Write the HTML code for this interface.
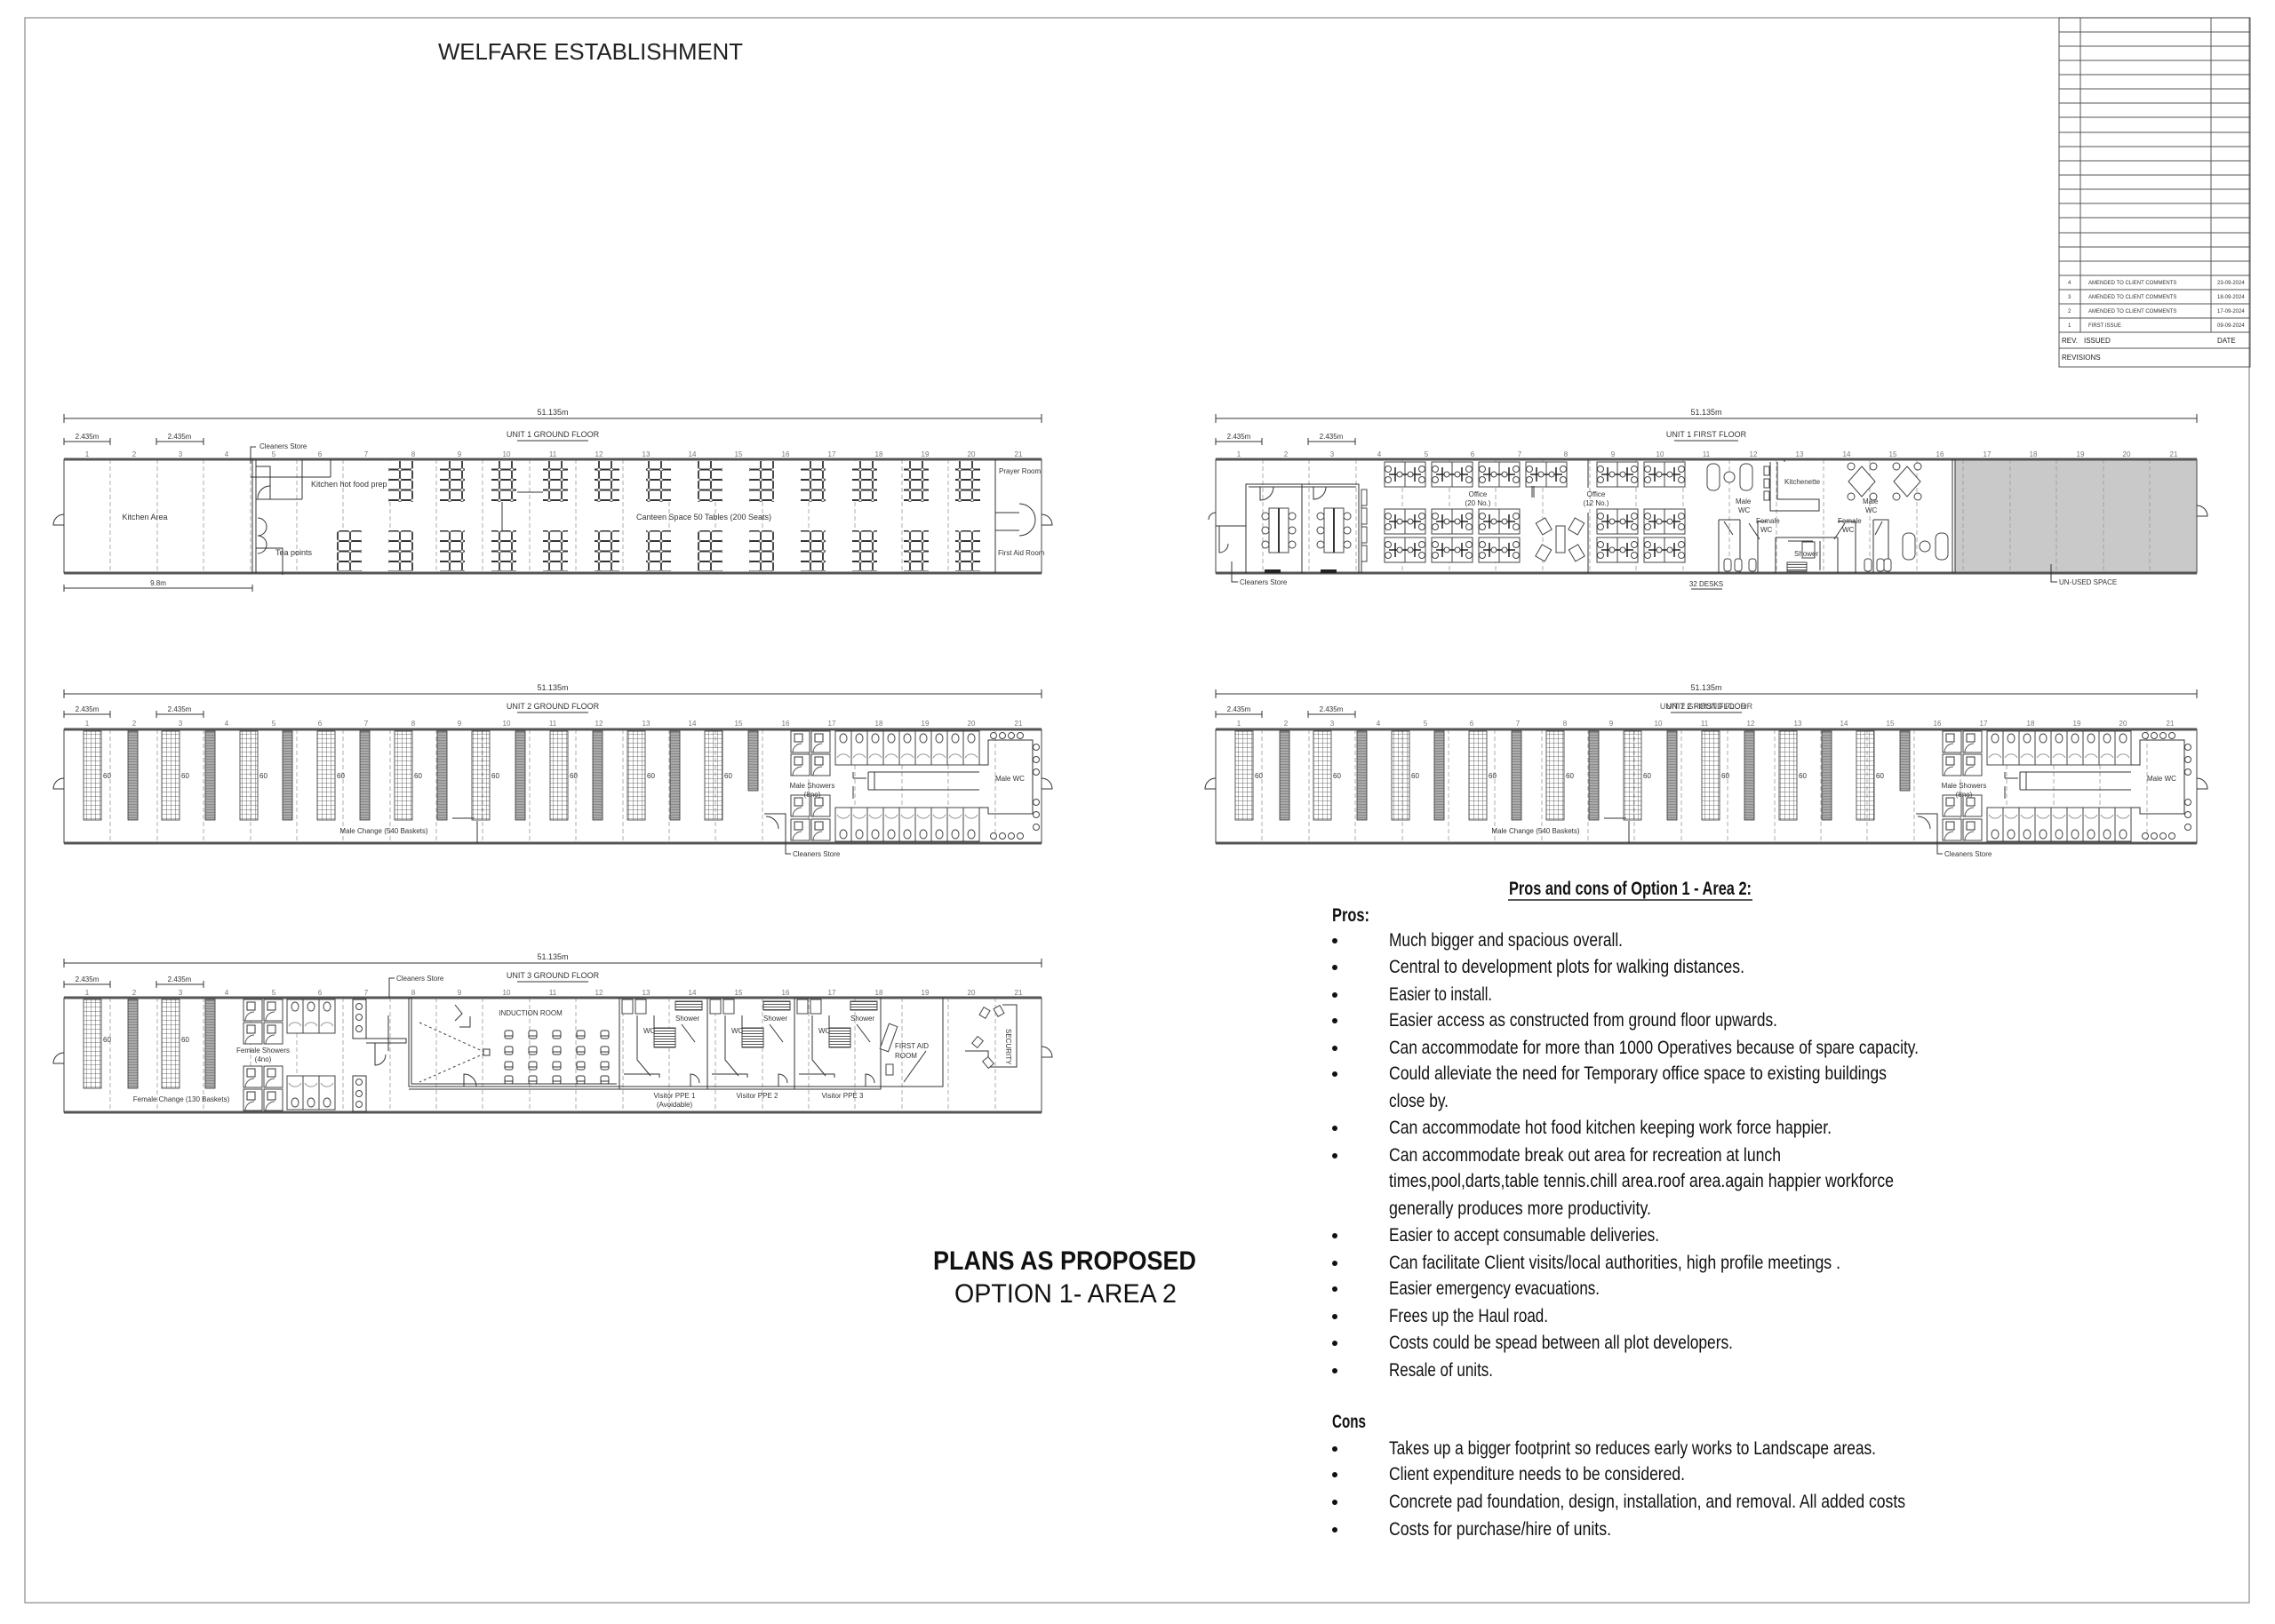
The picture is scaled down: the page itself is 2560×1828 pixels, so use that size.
<!DOCTYPE html>
<html><head><meta charset="utf-8"><style>
html,body{margin:0;padding:0;background:#fff;}
svg{display:block;}
.n{font-family:"Liberation Sans Narrow","Liberation Sans",sans-serif;fill:#333;}
.s8{font-size:8px;}.s9{font-size:9px;}
.ln{stroke:#333;fill:none;stroke-width:1;}
.dsh{stroke:#999;stroke-width:.8;stroke-dasharray:5 3;}
.wall{stroke:#555;stroke-width:3;}
.t{font-family:"Liberation Sans Narrow","Liberation Sans",sans-serif;font-size:21px;fill:#111;}
</style></head><body>
<svg width="2560" height="1828" viewBox="0 0 2560 1828" xmlns="http://www.w3.org/2000/svg">
<defs>
<pattern id="grid" width="5" height="5" patternUnits="userSpaceOnUse"><path d="M0 0H5M0 0V5" stroke="#444" stroke-width=".8" fill="none"/></pattern>
<pattern id="bench" width="10" height="3" patternUnits="userSpaceOnUse"><rect width="10" height="3" fill="#aaa"/><path d="M0 0H10" stroke="#555" stroke-width=".8"/></pattern>
<pattern id="tbl" width="14" height="11.5" patternUnits="userSpaceOnUse"><rect x=".5" y=".5" width="13" height="10.5" rx="2" fill="#fff" stroke="#333" stroke-width=".9"/></pattern>
<pattern id="stripe" width="4" height="3" patternUnits="userSpaceOnUse"><rect width="4" height="3" fill="#fff"/><path d="M0 1.5H4" stroke="#555" stroke-width="1"/></pattern>
<g id="desk"><rect x="0" y="0" width="46" height="28" fill="#fff" stroke="#444"/><line x1="23" y1="0" x2="23" y2="28" stroke="#444"/><path d="M5 14h36M12 6v16M34 6v16" stroke="#222" stroke-width="1.5"/><circle cx="4" cy="8" r="3.5" fill="#fff" stroke="#444"/><circle cx="4" cy="20" r="3.5" fill="#fff" stroke="#444"/><circle cx="42" cy="8" r="3.5" fill="#fff" stroke="#444"/><circle cx="42" cy="20" r="3.5" fill="#fff" stroke="#444"/><circle cx="17" cy="14" r="3" fill="#fff" stroke="#444"/><circle cx="29" cy="14" r="3" fill="#fff" stroke="#444"/></g>
<g id="wc"><rect x="0" y="0" width="18" height="38" fill="#fff" stroke="#444"/><ellipse cx="9" cy="8" rx="4" ry="5" fill="#fff" stroke="#444"/><path d="M2 30a8 8 0 0 1 14 0" stroke="#999" fill="none"/></g>
<g id="wcb"><rect x="0" y="0" width="18" height="38" fill="#fff" stroke="#444"/><ellipse cx="9" cy="30" rx="4" ry="5" fill="#fff" stroke="#444"/><path d="M2 8a8 8 0 0 0 14 0" stroke="#999" fill="none"/></g>
<g id="shw"><rect x="0" y="0" width="21" height="24" fill="#fff" stroke="#444"/><rect x="4" y="3" width="9" height="9" fill="#fff" stroke="#333"/><path d="M2 24a10 10 0 0 1 10-10" stroke="#555" fill="none"/></g>
<g id="chr"><rect x="0" y="0" width="9" height="9" rx="2" fill="#fff" stroke="#333"/><path d="M0 6h9" stroke="#333"/></g>
</defs>

<rect x="0" y="0" width="2560" height="1828" fill="#fff"/>
<!-- border -->
<rect x="28" y="20" width="2503" height="1784" fill="none" stroke="#888" stroke-width="1.2"/>

<!-- title -->
<text x="493" y="67" font-family="Liberation Sans, sans-serif" font-size="26" fill="#222" textLength="343" lengthAdjust="spacingAndGlyphs">WELFARE ESTABLISHMENT</text>

<!-- revision table -->
<g stroke="#555" stroke-width="1" fill="none">
<rect x="2317" y="20" width="215" height="393"/>
<path d="M2341 20V374M2488 20V374"/>
<path d="M2317 36H2532M2317 52H2532M2317 68H2532M2317 84H2532M2317 100H2532M2317 116H2532M2317 132H2532M2317 149H2532M2317 165H2532M2317 181H2532M2317 197H2532M2317 213H2532M2317 229H2532M2317 245H2532M2317 262H2532M2317 278H2532M2317 294H2532M2317 310H2532M2317 326H2532M2317 342H2532M2317 358H2532M2317 374H2532M2317 392H2532"/>
</g>
<g class="n" style="font-size:6px">
<text x="2327" y="320">4</text><text x="2350" y="320">AMENDED TO CLIENT COMMENTS</text><text x="2495" y="320">23-09-2024</text>
<text x="2327" y="336">3</text><text x="2350" y="336">AMENDED TO CLIENT COMMENTS</text><text x="2495" y="336">18-09-2024</text>
<text x="2327" y="352">2</text><text x="2350" y="352">AMENDED TO CLIENT COMMENTS</text><text x="2495" y="352">17-09-2024</text>
<text x="2327" y="368">1</text><text x="2350" y="368">FIRST ISSUE</text><text x="2495" y="368">09-09-2024</text>
</g>
<g class="n" style="font-size:8px;fill:#222">
<text x="2320" y="386">REV.</text><text x="2345" y="386">ISSUED</text><text x="2495" y="386">DATE</text>
<text x="2320" y="405">REVISIONS</text>
</g>

<!-- ================= UNIT FRAME macro (written per unit) ================= -->
<!-- UNIT 1 GROUND FLOOR -->
<g transform="translate(72,517)">
<path class="ln" d="M0 -46H1100M0 -51V-41M1100 -51V-41M0 -20H52M104 -20H157M0 -24V-16M52 -24V-16M104 -24V-16M157 -24V-16"/>
<text class="n s9" x="550" y="-50" text-anchor="middle">51.135m</text>
<text class="n s9" x="550" y="-25" text-anchor="middle">UNIT 1 GROUND FLOOR</text><path class="ln" d="M510 -21H590"/>
<text class="n s8" x="26" y="-23" text-anchor="middle">2.435m</text><text class="n s8" x="130" y="-23" text-anchor="middle">2.435m</text>
<g class="n s8" text-anchor="middle" style="fill:#777"><text x="26" y="-3">1</text><text x="79" y="-3">2</text><text x="131" y="-3">3</text><text x="183" y="-3">4</text><text x="236" y="-3">5</text><text x="288" y="-3">6</text><text x="340" y="-3">7</text><text x="393" y="-3">8</text><text x="445" y="-3">9</text><text x="498" y="-3">10</text><text x="550" y="-3">11</text><text x="602" y="-3">12</text><text x="655" y="-3">13</text><text x="707" y="-3">14</text><text x="759" y="-3">15</text><text x="812" y="-3">16</text><text x="864" y="-3">17</text><text x="917" y="-3">18</text><text x="969" y="-3">19</text><text x="1021" y="-3">20</text><text x="1074" y="-3">21</text></g>
<path class="dsh" d="M52 0V128M105 0V128M157 0V128M210 0V128M262 0V128M314 0V128M367 0V128M419 0V128M471 0V128M524 0V128M576 0V128M629 0V128M681 0V128M733 0V128M786 0V128M838 0V128M890 0V128M943 0V128M995 0V128M1048 0V128"/>
<rect x="0" y="0" width="1100" height="128" fill="none" stroke="#444"/>
<path class="wall" d="M0 0H1100M0 128H1100"/>
<path class="ln" d="M0 62a12 12 0 0 0 -12 12H0M1100 62a12 12 0 0 1 12 12H1100"/>
<!-- kitchen walls -->
<path class="ln" d="M212 0V128M216 0V128M216 45H268M268 0V45M216 8H232V45M300 0V20M300 20H210"/>
<path class="ln" d="M216 100h30v30M232 30a14 14 0 0 0 -14 14M218 66a10 10 0 0 1 0 20M218 86a10 10 0 0 1 0 20"/>
<path class="ln" d="M1048 0V128M1048 60H1075M1048 80H1075M1075 50a18 18 0 0 1 0 36"/>
<path class="ln" d="M0 145H212M0 141V149M212 141V149"/>
<text class="n s8" x="106" y="142" text-anchor="middle">9.8m</text>
<text class="n s9" x="91" y="68" text-anchor="middle">Kitchen Area</text>
<text class="n s9" x="278" y="31">Kitchen hot food prep</text>
<text class="n s9" x="238" y="108">Tea points</text>
<text class="n s9" x="720" y="68" text-anchor="middle">Canteen Space 50 Tables (200 Seats)</text>
<text class="n s8" x="1052" y="16">Prayer Room</text>
<text class="n s8" x="1051" y="108">First Aid Room</text>
<text class="n s8" x="220" y="-12">Cleaners Store</text><path class="ln" d="M216 -14H210V5"/>
<!-- tables -->
<g fill="url(#tbl)">
<rect x="365" y="2" width="28" height="46"/><rect x="423" y="2" width="28" height="46"/><rect x="481" y="2" width="28" height="46"/><rect x="539" y="2" width="28" height="46"/><rect x="597" y="2" width="28" height="46"/><rect x="655" y="2" width="28" height="46"/><rect x="713" y="2" width="28" height="46"/><rect x="771" y="2" width="28" height="46"/><rect x="829" y="2" width="28" height="46"/><rect x="887" y="2" width="28" height="46"/><rect x="945" y="2" width="28" height="46"/><rect x="1003" y="2" width="28" height="46"/>
<rect x="307" y="80" width="28" height="46"/><rect x="365" y="80" width="28" height="46"/><rect x="423" y="80" width="28" height="46"/><rect x="481" y="80" width="28" height="46"/><rect x="539" y="80" width="28" height="46"/><rect x="597" y="80" width="28" height="46"/><rect x="655" y="80" width="28" height="46"/><rect x="713" y="80" width="28" height="46"/><rect x="771" y="80" width="28" height="46"/><rect x="829" y="80" width="28" height="46"/><rect x="887" y="80" width="28" height="46"/><rect x="945" y="80" width="28" height="46"/><rect x="1003" y="80" width="28" height="46"/>
</g>
<path class="ln" d="M493 48V80M510 37H539"/>
</g>

<!-- UNIT 1 FIRST FLOOR -->
<g transform="translate(1368,517)">
<rect x="832" y="0" width="272" height="128" fill="#c9c9c9"/>
<path class="ln" d="M0 -46H1104M0 -51V-41M1104 -51V-41M0 -20H52M104 -20H157M0 -24V-16M52 -24V-16M104 -24V-16M157 -24V-16"/>
<text class="n s9" x="552" y="-50" text-anchor="middle">51.135m</text>
<text class="n s9" x="552" y="-25" text-anchor="middle">UNIT 1 FIRST FLOOR</text><path class="ln" d="M516 -21H588"/>
<text class="n s8" x="26" y="-23" text-anchor="middle">2.435m</text><text class="n s8" x="130" y="-23" text-anchor="middle">2.435m</text>
<g class="n s8" text-anchor="middle" style="fill:#777"><text x="26" y="-3">1</text><text x="79" y="-3">2</text><text x="131" y="-3">3</text><text x="184" y="-3">4</text><text x="237" y="-3">5</text><text x="289" y="-3">6</text><text x="342" y="-3">7</text><text x="394" y="-3">8</text><text x="447" y="-3">9</text><text x="500" y="-3">10</text><text x="552" y="-3">11</text><text x="605" y="-3">12</text><text x="657" y="-3">13</text><text x="710" y="-3">14</text><text x="762" y="-3">15</text><text x="815" y="-3">16</text><text x="868" y="-3">17</text><text x="920" y="-3">18</text><text x="973" y="-3">19</text><text x="1025" y="-3">20</text><text x="1078" y="-3">21</text></g>
<path class="dsh" d="M53 0V128M105 0V128M158 0V128M210 0V128M263 0V128M315 0V128M368 0V128M421 0V128M473 0V128M526 0V128M578 0V128M631 0V128M684 0V128M736 0V128M789 0V128M841 0V128M894 0V128M946 0V128M999 0V128M1051 0V128"/>
<rect x="0" y="0" width="1104" height="128" fill="none" stroke="#444"/>
<path class="wall" d="M0 0H1104M0 128H1104"/>
<path class="ln" d="M1104 52a12 12 0 0 1 12 12H1104M0 75H34M0 60a8 8 0 0 0 -8 8"/>
<!-- rooms -->
<path class="ln" d="M34 128V28H161V128M97 28V128M37 31H158M161 40V128M164 40V128"/>
<path class="ln" d="M50 31v15a15 15 0 0 0 15-15M110 31v14a14 14 0 0 0 14-14M4 75v30a10 10 0 0 0 10-10"/>
<rect x="60" y="55" width="22" height="50" fill="#fff" stroke="#444"/><rect x="122" y="55" width="22" height="50" fill="#fff" stroke="#444"/>
<path d="M71 55v50M133 55v50" stroke="#333" stroke-width="2"/>
<g fill="#fff" stroke="#444"><circle cx="56" cy="64" r="4"/><circle cx="56" cy="80" r="4"/><circle cx="56" cy="96" r="4"/><circle cx="86" cy="64" r="4"/><circle cx="86" cy="80" r="4"/><circle cx="86" cy="96" r="4"/><circle cx="118" cy="64" r="4"/><circle cx="118" cy="80" r="4"/><circle cx="118" cy="96" r="4"/><circle cx="148" cy="64" r="4"/><circle cx="148" cy="80" r="4"/><circle cx="148" cy="96" r="4"/></g>
<rect x="55" y="124" width="18" height="4" fill="#222"/><rect x="118" y="124" width="18" height="4" fill="#222"/>
<g fill="#fff" stroke="#444"><rect x="164" y="34" width="6" height="18"/><rect x="164" y="55" width="6" height="18"/><rect x="164" y="76" width="6" height="18"/><rect x="164" y="97" width="6" height="18"/></g>
<!-- desks -->
<use href="#desk" x="190" y="3"/><use href="#desk" x="243" y="3"/><use href="#desk" x="296" y="3"/><use href="#desk" x="349" y="3"/>
<use href="#desk" x="429" y="3"/><use href="#desk" x="482" y="3"/>
<use href="#desk" x="190" y="56"/><use href="#desk" x="243" y="56"/><use href="#desk" x="296" y="56"/>
<use href="#desk" x="190" y="88"/><use href="#desk" x="243" y="88"/><use href="#desk" x="296" y="88"/>
<use href="#desk" x="429" y="56"/><use href="#desk" x="482" y="56"/>
<use href="#desk" x="429" y="88"/><use href="#desk" x="482" y="88"/>
<path class="ln" d="M419 0V32M419 60V128M358 30V43M356 30V43"/>
<rect x="383" y="75" width="10" height="30" fill="#fff" stroke="#444"/>
<g fill="#fff" stroke="#444"><rect x="363" y="68" width="12" height="15" transform="rotate(-30 369 75)"/><rect x="400" y="68" width="12" height="15" transform="rotate(30 406 75)"/><rect x="363" y="98" width="12" height="15" transform="rotate(30 369 105)"/><rect x="400" y="98" width="12" height="15" transform="rotate(-30 406 105)"/></g>
<text class="n s8" x="428" y="42" text-anchor="middle">Office</text><text class="n s8" x="428" y="52" text-anchor="middle">(12 No.)</text>
<text class="n s8" x="295" y="42" text-anchor="middle">Office</text><text class="n s8" x="295" y="52" text-anchor="middle">(20 No.)</text>
<!-- lounge -->
<g fill="#fff" stroke="#444"><rect x="553" y="5" width="14" height="30" rx="6"/><circle cx="578" cy="20" r="6"/><rect x="590" y="5" width="14" height="30" rx="6"/>
<rect x="773" y="83" width="14" height="30" rx="6"/><circle cx="798" cy="98" r="6"/><rect x="810" y="83" width="14" height="30" rx="6"/></g>
<!-- WC area -->
<path class="ln" d="M566 68V128M566 68H590M590 68V128M610 70V128M610 70H620M630 88V128M630 88H700M700 88V128M644 92H672M680 92V125M720 70V128M720 70H700M740 68V128M740 68H757V128"/>
<g fill="#fff" stroke="#444"><rect x="572" y="112" width="8" height="14" rx="3"/><rect x="584" y="112" width="8" height="14" rx="3"/><rect x="600" y="112" width="8" height="14" rx="3"/><rect x="730" y="112" width="8" height="14" rx="3"/><rect x="744" y="112" width="8" height="14" rx="3"/><rect x="752" y="112" width="8" height="14" rx="3"/><rect x="660" y="93" width="14" height="18"/></g>
<rect x="643" y="116" width="22" height="10" fill="url(#stripe)" stroke="#444"/>
<path class="ln" d="M572 70l10 15M600 72l12 18M708 72l-12 18M750 70l-8 15"/>
<text class="n s8" x="585" y="50">Male</text><text class="n s8" x="588" y="60">WC</text>
<text class="n s8" x="608" y="72">Female</text><text class="n s8" x="613" y="82">WC</text>
<text class="n s8" x="700" y="72">Female</text><text class="n s8" x="705" y="82">WC</text>
<text class="n s8" x="728" y="50">Male</text><text class="n s8" x="731" y="60">WC</text>
<text class="n s8" x="651" y="109">Shower</text>
<!-- kitchenette -->
<path class="ln" d="M624 3V58H679V45H632V3"/>
<g fill="#fff" stroke="#444"><rect x="617" y="8" width="6" height="10"/><rect x="617" y="22" width="6" height="10"/><rect x="617" y="36" width="6" height="10"/></g>
<text class="n s8" x="640" y="28">Kitchenette</text>
<path class="ln" d="M640 0V3"/>
<!-- round tables -->
<g fill="#fff" stroke="#444"><path d="M727 8L742 25L727 42L712 25Z"/><path d="M778 8L793 25L778 42L763 25Z"/><circle cx="715" cy="8" r="4"/><circle cx="740" cy="8" r="4"/><circle cx="715" cy="42" r="4"/><circle cx="740" cy="42" r="4"/><circle cx="766" cy="8" r="4"/><circle cx="790" cy="8" r="4"/><circle cx="766" cy="42" r="4"/><circle cx="790" cy="42" r="4"/></g>
<path class="ln" d="M832 0V128M829 0V128"/>
<text class="n s8" x="552" y="143" text-anchor="middle">32 DESKS</text><path class="ln" d="M535 146H570"/>
<path class="ln" d="M18 115V138H25"/><text class="n s8" x="27" y="141">Cleaners Store</text>
<path class="ln" d="M940 118V138H947"/><text class="n s8" x="949" y="141">UN-USED SPACE</text>
</g>

<!-- UNIT 2 GROUND FLOOR and FIRST FLOOR share layout -->
<g transform="translate(72,821)">
<path class="ln" d="M0 -40H1100M0 -45V-35M1100 -45V-35M0 -17H52M104 -17H157M0 -21V-13M52 -21V-13M104 -21V-13M157 -21V-13"/>
<text class="n s9" x="550" y="-44" text-anchor="middle">51.135m</text>
<text class="n s9" x="550" y="-23" text-anchor="middle">UNIT 2 GROUND FLOOR</text><path class="ln" d="M510 -19H590"/>
<text class="n s8" x="26" y="-20" text-anchor="middle">2.435m</text><text class="n s8" x="130" y="-20" text-anchor="middle">2.435m</text>
<g class="n s8" text-anchor="middle" style="fill:#777"><text x="26" y="-4">1</text><text x="79" y="-4">2</text><text x="131" y="-4">3</text><text x="183" y="-4">4</text><text x="236" y="-4">5</text><text x="288" y="-4">6</text><text x="340" y="-4">7</text><text x="393" y="-4">8</text><text x="445" y="-4">9</text><text x="498" y="-4">10</text><text x="550" y="-4">11</text><text x="602" y="-4">12</text><text x="655" y="-4">13</text><text x="707" y="-4">14</text><text x="759" y="-4">15</text><text x="812" y="-4">16</text><text x="864" y="-4">17</text><text x="917" y="-4">18</text><text x="969" y="-4">19</text><text x="1021" y="-4">20</text><text x="1074" y="-4">21</text></g>
<g id="u2body">
<path class="dsh" d="M52 0V128M105 0V128M157 0V128M210 0V128M262 0V128M314 0V128M367 0V128M419 0V128M471 0V128M524 0V128M576 0V128M629 0V128M681 0V128M733 0V128M786 0V128M838 0V128M890 0V128M943 0V128M995 0V128M1048 0V128"/>
<rect x="0" y="0" width="1100" height="128" fill="none" stroke="#444"/>
<path class="wall" d="M0 0H1100M0 128H1100"/>
<path class="ln" d="M0 55a12 12 0 0 0 -12 12H0M1100 55a12 12 0 0 1 12 12H1100"/>
<g fill="url(#grid)" stroke="#333" stroke-width=".8">
<rect x="22" y="2" width="20" height="100"/><rect x="110" y="2" width="20" height="100"/><rect x="198" y="2" width="20" height="100"/><rect x="285" y="2" width="20" height="100"/><rect x="372" y="2" width="20" height="100"/><rect x="459" y="2" width="20" height="100"/><rect x="547" y="2" width="20" height="100"/><rect x="634" y="2" width="20" height="100"/><rect x="721" y="2" width="20" height="100"/>
</g>
<g fill="url(#bench)" stroke="#333" stroke-width=".8">
<rect x="72" y="2" width="11" height="100"/><rect x="159" y="2" width="11" height="100"/><rect x="246" y="2" width="11" height="100"/><rect x="333" y="2" width="11" height="100"/><rect x="420" y="2" width="11" height="100"/><rect x="508" y="2" width="11" height="100"/><rect x="595" y="2" width="11" height="100"/><rect x="682" y="2" width="11" height="100"/><rect x="770" y="2" width="11" height="67"/>
</g>
<g class="n s8"><text x="44" y="55">60</text><text x="132" y="55">60</text><text x="220" y="55">60</text><text x="307" y="55">60</text><text x="394" y="55">60</text><text x="481" y="55">60</text><text x="569" y="55">60</text><text x="656" y="55">60</text><text x="743" y="55">60</text></g>
<text class="n s8" x="360" y="117" text-anchor="middle">Male Change (540 Baskets)</text>
<path class="ln" d="M465 103V128M437 100H462"/>
<!-- showers -->
<use href="#shw" x="818" y="2"/><use href="#shw" x="841" y="2"/><use href="#shw" x="818" y="28"/><use href="#shw" x="841" y="28"/>
<use href="#shw" x="818" y="74"/><use href="#shw" x="841" y="74"/><use href="#shw" x="818" y="101"/><use href="#shw" x="841" y="101"/>
<text class="n s8" x="842" y="66" text-anchor="middle">Male Showers</text><text class="n s8" x="842" y="76" text-anchor="middle">(8no)</text>
<path class="ln" d="M788 95H812V128M790 98a14 14 0 0 1 14 14"/>
<!-- toilets -->
<use href="#wc" x="868" y="2"/><use href="#wc" x="886" y="2"/><use href="#wc" x="904" y="2"/><use href="#wc" x="922" y="2"/><use href="#wc" x="940" y="2"/><use href="#wc" x="958" y="2"/><use href="#wc" x="976" y="2"/><use href="#wc" x="994" y="2"/><use href="#wc" x="1012" y="2"/>
<use href="#wcb" x="868" y="88"/><use href="#wcb" x="886" y="88"/><use href="#wcb" x="904" y="88"/><use href="#wcb" x="922" y="88"/><use href="#wcb" x="940" y="88"/><use href="#wcb" x="958" y="88"/><use href="#wcb" x="976" y="88"/><use href="#wcb" x="994" y="88"/><use href="#wcb" x="1012" y="88"/>
<path class="ln" d="M905 48H1030M905 68H1030M905 48V68M912 48V68M1030 40H1040V12H1090V95H1040V88H1030M888 55H903M888 55V48M888 64V78"/>
<g fill="#fff" stroke="#444"><circle cx="1046" cy="7" r="3.5"/><circle cx="1056" cy="7" r="3.5"/><circle cx="1066" cy="7" r="3.5"/><circle cx="1076" cy="7" r="3.5"/><circle cx="1046" cy="120" r="3.5"/><circle cx="1056" cy="120" r="3.5"/><circle cx="1066" cy="120" r="3.5"/><circle cx="1076" cy="120" r="3.5"/><circle cx="1094" cy="20" r="3.5"/><circle cx="1094" cy="34" r="3.5"/><circle cx="1094" cy="48" r="3.5"/><circle cx="1094" cy="82" r="3.5"/><circle cx="1094" cy="96" r="3.5"/><circle cx="1094" cy="110" r="3.5"/></g>
<text class="n s8" x="1048" y="58">Male WC</text>
<path class="ln" d="M812 128V140H818"/><text class="n s8" x="820" y="143">Cleaners Store</text>
</g>
</g>

<g transform="translate(1368,821)">
<path class="ln" d="M0 -40H1104M0 -45V-35M1104 -45V-35M0 -17H52M104 -17H157M0 -21V-13M52 -21V-13M104 -21V-13M157 -21V-13"/>
<text class="n s9" x="552" y="-44" text-anchor="middle">51.135m</text>
<text class="n s9" x="552" y="-23" text-anchor="middle">UNIT 2 FIRST FLOOR</text>
<text class="n s9" x="552" y="-23" text-anchor="middle" style="fill:#555">UNIT 2 GROUND FLOOR</text><path class="ln" d="M512 -19H592"/>
<text class="n s8" x="26" y="-20" text-anchor="middle">2.435m</text><text class="n s8" x="130" y="-20" text-anchor="middle">2.435m</text>
<g class="n s8" text-anchor="middle" style="fill:#777"><text x="26" y="-4">1</text><text x="79" y="-4">2</text><text x="131" y="-4">3</text><text x="183" y="-4">4</text><text x="236" y="-4">5</text><text x="288" y="-4">6</text><text x="340" y="-4">7</text><text x="393" y="-4">8</text><text x="445" y="-4">9</text><text x="498" y="-4">10</text><text x="550" y="-4">11</text><text x="602" y="-4">12</text><text x="655" y="-4">13</text><text x="707" y="-4">14</text><text x="759" y="-4">15</text><text x="812" y="-4">16</text><text x="864" y="-4">17</text><text x="917" y="-4">18</text><text x="969" y="-4">19</text><text x="1021" y="-4">20</text><text x="1074" y="-4">21</text></g>
<g>
<path class="dsh" d="M52 0V128M105 0V128M157 0V128M210 0V128M262 0V128M314 0V128M367 0V128M419 0V128M471 0V128M524 0V128M576 0V128M629 0V128M681 0V128M733 0V128M786 0V128M838 0V128M890 0V128M943 0V128M995 0V128M1048 0V128"/>
<rect x="0" y="0" width="1104" height="128" fill="none" stroke="#444"/>
<path class="wall" d="M0 0H1104M0 128H1104"/>
<path class="ln" d="M0 55a12 12 0 0 0 -12 12H0M1104 55a12 12 0 0 1 12 12H1104"/>
<g fill="url(#grid)" stroke="#333" stroke-width=".8">
<rect x="22" y="2" width="20" height="100"/><rect x="110" y="2" width="20" height="100"/><rect x="198" y="2" width="20" height="100"/><rect x="285" y="2" width="20" height="100"/><rect x="372" y="2" width="20" height="100"/><rect x="459" y="2" width="20" height="100"/><rect x="547" y="2" width="20" height="100"/><rect x="634" y="2" width="20" height="100"/><rect x="721" y="2" width="20" height="100"/>
</g>
<g fill="url(#bench)" stroke="#333" stroke-width=".8">
<rect x="72" y="2" width="11" height="100"/><rect x="159" y="2" width="11" height="100"/><rect x="246" y="2" width="11" height="100"/><rect x="333" y="2" width="11" height="100"/><rect x="420" y="2" width="11" height="100"/><rect x="508" y="2" width="11" height="100"/><rect x="595" y="2" width="11" height="100"/><rect x="682" y="2" width="11" height="100"/><rect x="770" y="2" width="11" height="67"/>
</g>
<g class="n s8"><text x="44" y="55">60</text><text x="132" y="55">60</text><text x="220" y="55">60</text><text x="307" y="55">60</text><text x="394" y="55">60</text><text x="481" y="55">60</text><text x="569" y="55">60</text><text x="656" y="55">60</text><text x="743" y="55">60</text></g>
<text class="n s8" x="360" y="117" text-anchor="middle">Male Change (540 Baskets)</text>
<path class="ln" d="M465 103V128M437 100H462"/>
<use href="#shw" x="818" y="2"/><use href="#shw" x="841" y="2"/><use href="#shw" x="818" y="28"/><use href="#shw" x="841" y="28"/>
<use href="#shw" x="818" y="74"/><use href="#shw" x="841" y="74"/><use href="#shw" x="818" y="101"/><use href="#shw" x="841" y="101"/>
<text class="n s8" x="842" y="66" text-anchor="middle">Male Showers</text><text class="n s8" x="842" y="76" text-anchor="middle">(8no)</text>
<path class="ln" d="M788 95H812V128M790 98a14 14 0 0 1 14 14"/>
<use href="#wc" x="868" y="2"/><use href="#wc" x="886" y="2"/><use href="#wc" x="904" y="2"/><use href="#wc" x="922" y="2"/><use href="#wc" x="940" y="2"/><use href="#wc" x="958" y="2"/><use href="#wc" x="976" y="2"/><use href="#wc" x="994" y="2"/><use href="#wc" x="1012" y="2"/>
<use href="#wcb" x="868" y="88"/><use href="#wcb" x="886" y="88"/><use href="#wcb" x="904" y="88"/><use href="#wcb" x="922" y="88"/><use href="#wcb" x="940" y="88"/><use href="#wcb" x="958" y="88"/><use href="#wcb" x="976" y="88"/><use href="#wcb" x="994" y="88"/><use href="#wcb" x="1012" y="88"/>
<path class="ln" d="M905 48H1030M905 68H1030M905 48V68M912 48V68M1030 40H1040V12H1090V95H1040V88H1030M888 55H903M888 55V48M888 64V78"/>
<g fill="#fff" stroke="#444"><circle cx="1046" cy="7" r="3.5"/><circle cx="1056" cy="7" r="3.5"/><circle cx="1066" cy="7" r="3.5"/><circle cx="1076" cy="7" r="3.5"/><circle cx="1046" cy="120" r="3.5"/><circle cx="1056" cy="120" r="3.5"/><circle cx="1066" cy="120" r="3.5"/><circle cx="1076" cy="120" r="3.5"/><circle cx="1094" cy="20" r="3.5"/><circle cx="1094" cy="34" r="3.5"/><circle cx="1094" cy="48" r="3.5"/><circle cx="1094" cy="82" r="3.5"/><circle cx="1094" cy="96" r="3.5"/><circle cx="1094" cy="110" r="3.5"/></g>
<text class="n s8" x="1048" y="58">Male WC</text>
<path class="ln" d="M812 128V140H818"/><text class="n s8" x="820" y="143">Cleaners Store</text>
</g>
</g>

<!-- UNIT 3 GROUND FLOOR -->
<g transform="translate(72,1123)">
<path class="ln" d="M0 -39H1100M0 -44V-34M1100 -44V-34M0 -15H52M104 -15H157M0 -19V-11M52 -19V-11M104 -19V-11M157 -19V-11"/>
<text class="n s9" x="550" y="-43" text-anchor="middle">51.135m</text>
<text class="n s9" x="550" y="-22" text-anchor="middle">UNIT 3 GROUND FLOOR</text><path class="ln" d="M510 -18H590"/>
<text class="n s8" x="26" y="-18" text-anchor="middle">2.435m</text><text class="n s8" x="130" y="-18" text-anchor="middle">2.435m</text>
<g class="n s8" text-anchor="middle" style="fill:#777"><text x="26" y="-3">1</text><text x="79" y="-3">2</text><text x="131" y="-3">3</text><text x="183" y="-3">4</text><text x="236" y="-3">5</text><text x="288" y="-3">6</text><text x="340" y="-3">7</text><text x="393" y="-3">8</text><text x="445" y="-3">9</text><text x="498" y="-3">10</text><text x="550" y="-3">11</text><text x="602" y="-3">12</text><text x="655" y="-3">13</text><text x="707" y="-3">14</text><text x="759" y="-3">15</text><text x="812" y="-3">16</text><text x="864" y="-3">17</text><text x="917" y="-3">18</text><text x="969" y="-3">19</text><text x="1021" y="-3">20</text><text x="1074" y="-3">21</text></g>
<path class="dsh" d="M52 0V129M105 0V129M157 0V129M210 0V129M262 0V129M314 0V129M367 0V129M419 0V129M471 0V129M524 0V129M576 0V129M629 0V129M681 0V129M733 0V129M786 0V129M838 0V129M890 0V129M943 0V129M995 0V129M1048 0V129"/>
<rect x="0" y="0" width="1100" height="129" fill="none" stroke="#444"/>
<path class="wall" d="M0 0H1100M0 129H1100"/>
<path class="ln" d="M0 62a12 12 0 0 0 -12 12H0M1100 55a12 12 0 0 1 12 12H1100"/>
<g fill="url(#grid)" stroke="#333" stroke-width=".8"><rect x="22" y="2" width="20" height="100"/><rect x="110" y="2" width="20" height="100"/></g>
<g fill="url(#bench)" stroke="#333" stroke-width=".8"><rect x="72" y="2" width="11" height="100"/><rect x="159" y="2" width="11" height="100"/></g>
<text class="n s8" x="44" y="50">60</text><text class="n s8" x="132" y="50">60</text>
<text class="n s8" x="132" y="117" text-anchor="middle">Female Change (130 Baskets)</text>
<use href="#shw" x="202" y="2"/><use href="#shw" x="225" y="2"/><use href="#shw" x="202" y="28"/><use href="#shw" x="225" y="28"/>
<use href="#shw" x="202" y="77"/><use href="#shw" x="225" y="77"/><use href="#shw" x="202" y="103"/><use href="#shw" x="225" y="103"/>
<text class="n s8" x="224" y="62" text-anchor="middle">Female Showers</text><text class="n s8" x="224" y="72" text-anchor="middle">(4no)</text>
<use href="#wc" x="251" y="2"/><use href="#wc" x="269" y="2"/><use href="#wc" x="287" y="2"/>
<use href="#wcb" x="251" y="88"/><use href="#wcb" x="269" y="88"/><use href="#wcb" x="287" y="88"/>
<path class="ln" d="M325 2H340V46H325ZM325 88H340V128H325ZM340 46H385V51H340M350 51v25a12 12 0 0 0 12-12M365 20V60"/>
<g fill="#fff" stroke="#444"><circle cx="332" cy="10" r="3.5"/><circle cx="332" cy="22" r="3.5"/><circle cx="332" cy="35" r="3.5"/><circle cx="332" cy="95" r="3.5"/><circle cx="332" cy="108" r="3.5"/><circle cx="332" cy="120" r="3.5"/></g>
<path class="ln" d="M366 0V-22H372"/><text class="n s8" x="374" y="-19">Cleaners Store</text>
<!-- induction -->
<path class="ln" d="M388 0V100H625V0M391 0V97H622M388 103H625"/>
<path d="M400 28L475 62L400 95" stroke="#444" fill="none" stroke-dasharray="3 3"/><rect x="472" y="58" width="7" height="7" fill="#fff" stroke="#333"/>
<path class="ln" d="M440 8l8 10-8 8M445 33h12v-12"/>
<text class="n s8" x="525" y="20" text-anchor="middle">INDUCTION ROOM</text>
<g>
<use href="#chr" x="496" y="37"/><use href="#chr" x="523" y="37"/><use href="#chr" x="550" y="37"/><use href="#chr" x="577" y="37"/><use href="#chr" x="604" y="37"/>
<use href="#chr" x="496" y="55"/><use href="#chr" x="523" y="55"/><use href="#chr" x="550" y="55"/><use href="#chr" x="577" y="55"/><use href="#chr" x="604" y="55"/>
<use href="#chr" x="496" y="72"/><use href="#chr" x="523" y="72"/><use href="#chr" x="550" y="72"/><use href="#chr" x="577" y="72"/><use href="#chr" x="604" y="72"/>
<use href="#chr" x="496" y="88"/><use href="#chr" x="523" y="88"/><use href="#chr" x="550" y="88"/><use href="#chr" x="577" y="88"/><use href="#chr" x="604" y="88"/>
</g>
<path class="ln" d="M450 100v-14a14 14 0 0 1 14 14"/>
<!-- visitor PPE -->
<path class="ln" d="M625 0V103H919V0M724 0V103M822 0V103M625 100H919M630 86H670V90M729 86H769V90M827 86H867V90"/>
<g>
<rect x="628" y="2" width="12" height="16" fill="#fff" stroke="#444"/><rect x="643" y="2" width="12" height="16" fill="#fff" stroke="#444"/><rect x="664" y="34" width="24" height="22" fill="url(#stripe)" stroke="#444"/><rect x="688" y="4" width="30" height="10" fill="url(#stripe)" stroke="#444"/>
<rect x="727" y="2" width="12" height="16" fill="#fff" stroke="#444"/><rect x="742" y="2" width="12" height="16" fill="#fff" stroke="#444"/><rect x="763" y="34" width="24" height="22" fill="url(#stripe)" stroke="#444"/><rect x="787" y="4" width="30" height="10" fill="url(#stripe)" stroke="#444"/>
<rect x="825" y="2" width="12" height="16" fill="#fff" stroke="#444"/><rect x="840" y="2" width="12" height="16" fill="#fff" stroke="#444"/><rect x="861" y="34" width="24" height="22" fill="url(#stripe)" stroke="#444"/><rect x="885" y="4" width="30" height="10" fill="url(#stripe)" stroke="#444"/>
</g>
<path class="ln" d="M645 20V70l15 18M664 20V34M744 20V70l15 18M763 20V34M842 20V70l15 18M861 20V34M695 30l15 20M794 30l15 20M892 30l15 20M705 100v-14a10 10 0 0 1 10 10M804 100v-14a10 10 0 0 1 10 10M902 100v-14a10 10 0 0 1 10 10"/>
<text class="n s8" x="652" y="40">WC</text><text class="n s8" x="751" y="40">WC</text><text class="n s8" x="849" y="40">WC</text>
<text class="n s8" x="688" y="26">Shower</text><text class="n s8" x="787" y="26">Shower</text><text class="n s8" x="885" y="26">Shower</text>
<text class="n s8" x="687" y="113" text-anchor="middle">Visitor PPE 1</text><text class="n s8" x="687" y="123" text-anchor="middle">(Avoidable)</text>
<text class="n s8" x="780" y="113" text-anchor="middle">Visitor PPE 2</text><text class="n s8" x="876" y="113" text-anchor="middle">Visitor PPE 3</text>
<!-- first aid -->
<path class="ln" d="M919 0V100H989V0M989 0V30M919 100H989M945 95l25-35"/>
<rect x="923" y="30" width="10" height="30" fill="#fff" stroke="#444" transform="rotate(20 928 45)"/>
<rect x="925" y="75" width="8" height="12" fill="#fff" stroke="#444"/>
<text class="n s8" x="935" y="57">FIRST AID</text><text class="n s8" x="935" y="68">ROOM</text>
<!-- security -->
<path class="ln" d="M1014 60H1040V78H1072V8H1056"/>
<text class="n s8" transform="translate(1060,35) rotate(90)">SECURITY</text>
<g fill="#fff" stroke="#444"><rect x="1032" y="12" width="8" height="10" transform="rotate(30 1036 17)"/><rect x="1048" y="10" width="8" height="10" transform="rotate(-30 1052 15)"/><rect x="1024" y="45" width="8" height="10" transform="rotate(40 1028 50)"/><rect x="1036" y="68" width="8" height="10" transform="rotate(-40 1040 73)"/></g>
</g>

<!-- PLANS AS PROPOSED -->
<text x="1198" y="1429" text-anchor="middle" font-family="Liberation Sans Narrow, Liberation Sans, sans-serif" font-size="30" font-weight="bold" fill="#111" textLength="296" lengthAdjust="spacingAndGlyphs">PLANS AS PROPOSED</text>
<text x="1199" y="1466" text-anchor="middle" font-family="Liberation Sans Narrow, Liberation Sans, sans-serif" font-size="30" fill="#111" textLength="250" lengthAdjust="spacingAndGlyphs">OPTION 1- AREA 2</text>

<!-- Pros and cons -->
<text x="1698" y="1007" font-family="Liberation Sans Narrow, Liberation Sans, sans-serif" font-size="21" font-weight="bold" fill="#111" textLength="273" lengthAdjust="spacingAndGlyphs">Pros and cons of Option 1 - Area 2:</text>
<path d="M1697 1013H1972" stroke="#222" stroke-width="1.5"/>
<text x="1499" y="1037" font-family="Liberation Sans Narrow, Liberation Sans, sans-serif" font-size="21" font-weight="bold" fill="#111" textLength="42" lengthAdjust="spacingAndGlyphs">Pros:</text>
<g fill="#111">
<circle cx="1502" cy="1059" r="3"/><circle cx="1502" cy="1089" r="3"/><circle cx="1502" cy="1120" r="3"/><circle cx="1502" cy="1149" r="3"/><circle cx="1502" cy="1180" r="3"/><circle cx="1502" cy="1209" r="3"/><circle cx="1502" cy="1270" r="3"/><circle cx="1502" cy="1301" r="3"/><circle cx="1502" cy="1391" r="3"/><circle cx="1502" cy="1422" r="3"/><circle cx="1502" cy="1451" r="3"/><circle cx="1502" cy="1482" r="3"/><circle cx="1502" cy="1512" r="3"/><circle cx="1502" cy="1543" r="3"/>
<circle cx="1502" cy="1631" r="3"/><circle cx="1502" cy="1660" r="3"/><circle cx="1502" cy="1691" r="3"/><circle cx="1502" cy="1722" r="3"/>
</g>
<g class="t">
<text x="1563" y="1065" textLength="263" lengthAdjust="spacingAndGlyphs">Much bigger and spacious overall.</text>
<text x="1563" y="1095" textLength="400" lengthAdjust="spacingAndGlyphs">Central to development plots for walking distances.</text>
<text x="1563" y="1126" textLength="116" lengthAdjust="spacingAndGlyphs">Easier to install.</text>
<text x="1563" y="1155" textLength="437" lengthAdjust="spacingAndGlyphs">Easier access as constructed from ground floor upwards.</text>
<text x="1563" y="1186" textLength="596" lengthAdjust="spacingAndGlyphs">Can accommodate for more than 1000 Operatives because of spare capacity.</text>
<text x="1563" y="1215" textLength="560" lengthAdjust="spacingAndGlyphs">Could alleviate the need for Temporary office space to existing buildings</text>
<text x="1563" y="1246" textLength="67" lengthAdjust="spacingAndGlyphs">close by.</text>
<text x="1563" y="1276" textLength="498" lengthAdjust="spacingAndGlyphs">Can accommodate hot food kitchen keeping work force happier.</text>
<text x="1563" y="1307" textLength="441" lengthAdjust="spacingAndGlyphs">Can accommodate break out area for recreation at lunch</text>
<text x="1563" y="1336" textLength="568" lengthAdjust="spacingAndGlyphs">times,pool,darts,table tennis.chill area.roof area.again happier workforce</text>
<text x="1563" y="1367" textLength="295" lengthAdjust="spacingAndGlyphs">generally produces more productivity.</text>
<text x="1563" y="1397" textLength="304" lengthAdjust="spacingAndGlyphs">Easier to accept consumable deliveries.</text>
<text x="1563" y="1428" textLength="508" lengthAdjust="spacingAndGlyphs">Can facilitate Client visits/local authorities, high profile meetings .</text>
<text x="1563" y="1457" textLength="237" lengthAdjust="spacingAndGlyphs">Easier emergency evacuations.</text>
<text x="1563" y="1488" textLength="179" lengthAdjust="spacingAndGlyphs">Frees up the Haul road.</text>
<text x="1563" y="1518" textLength="387" lengthAdjust="spacingAndGlyphs">Costs could be spead between all plot developers.</text>
<text x="1563" y="1549" textLength="117" lengthAdjust="spacingAndGlyphs">Resale of units.</text>
<text x="1499" y="1607" font-weight="bold" textLength="38" lengthAdjust="spacingAndGlyphs">Cons</text>
<text x="1563" y="1637" textLength="548" lengthAdjust="spacingAndGlyphs">Takes up a bigger footprint so reduces early works to Landscape areas.</text>
<text x="1563" y="1666" textLength="333" lengthAdjust="spacingAndGlyphs">Client expenditure needs to be considered.</text>
<text x="1563" y="1697" textLength="581" lengthAdjust="spacingAndGlyphs">Concrete pad foundation, design, installation, and removal. All added costs</text>
<text x="1563" y="1728" textLength="250" lengthAdjust="spacingAndGlyphs">Costs for purchase/hire of units.</text>
</g>
</svg>
</body></html>
